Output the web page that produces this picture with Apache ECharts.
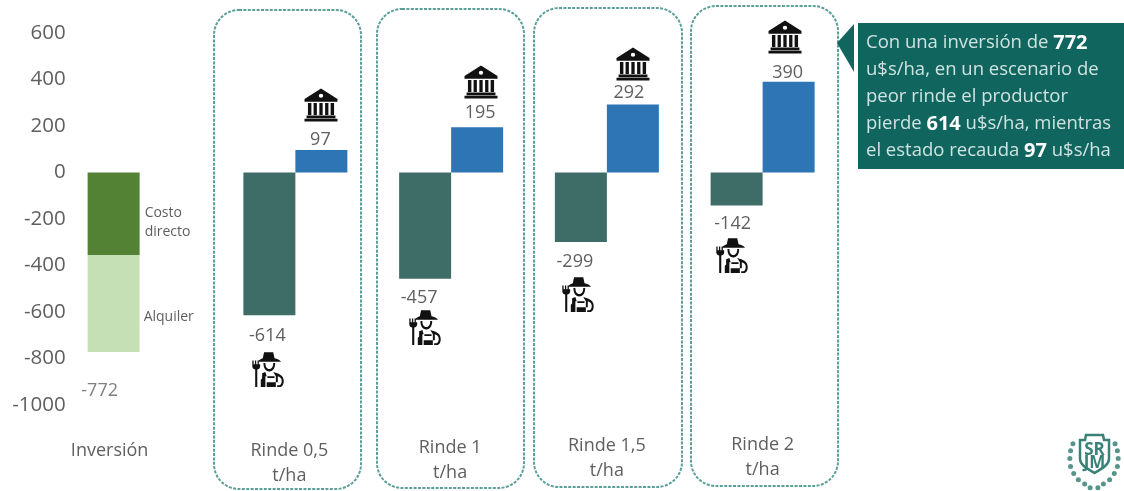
<!DOCTYPE html>
<html><head><meta charset="utf-8">
<style>html,body{margin:0;padding:0;background:#fff}#c{width:1124px;height:491px;filter:blur(0.45px)}</style>
<script src="https://cdn.jsdelivr.net/npm/echarts@6/dist/echarts.min.js"></script>
</head><body><div id="c"></div>
<script>
const categories = ['Inversión', 'Rinde 0,5', 'Rinde 1', 'Rinde 1,5', 'Rinde 2'];
const costoDirecto = [-355, null, null, null, null];
const alquiler = [-417, null, null, null, null];
const productor = [null, -614, -457, -299, -142];
const estado = [null, 97, 195, 292, 390];
const inversionTotal = [-772, null, null, null, null];
const yTicks = [-1000, 600, 200];

const FONT = '"Open Sans", sans-serif';
const GREY = '#5f5f5f';
const TEAL = '#5b9f98';
const LOGO = '#3a8278';
// label nudges (px) so that labels sit where the reference has them
const prodOffset = [null, [-2, 7], [-6, 5], [-6, 6], [-4, 4]];
const estOffset = [null, [-1, 2], [3, -2], [-4, 0], [-1, 3]];
// each category label sits at its own height and x in the reference
const labelDown = [6, 6, 3, 1, 0];
const labelLeft = [60, 12, 2, 0, 0];

echarts.graphic.registerShape('bankIcon', echarts.graphic.extendPath(
  'M12 0 L24 8 V10 H0 V8 Z M10.4 5.5 A1.6 1.6 0 1 0 13.6 5.5 A1.6 1.6 0 1 0 10.4 5.5 Z M2.5 11 H5 V20 H2.5 Z M6.6 11 H9 V20 H6.6 Z M10.8 11 H13.2 V20 H10.8 Z M15 11 H17.4 V20 H15 Z M19 11 H21.5 V20 H19 Z M1.5 20.5 H22.5 V22.5 H1.5 Z M0 23 H24 V25 H0 Z', {}));
echarts.graphic.registerShape('farmerIcon', echarts.graphic.extendPath(
  'M10 1 H17 L18 6 C20 6.5 22 7.5 23 9 H5 C6 7.5 8 6.5 9 6 Z ' +
  'M9.5 10 H11 C11 13 12 15 14 15 C16 15 17 13 17 10 H18.5 C18.5 14 17 17 14 17 C11 17 9.5 14 9.5 10 Z ' +
  'M1 8 H2 V11 H3 V8 H4 V11 H5 V8 H6 V11 H7 V8 V13 C7 14.5 5.6 15.5 4.8 15.5 V30 H3.2 V15.5 C2.4 15.5 1 14.5 1 13 Z ' +
  'M8.5 18.5 L11 17.5 L12 21 H11 V30 H7.5 V24 L8.5 23 Z ' +
  'M12.5 21 H18 V22.5 H12.5 Z M12 26 H19 V30 H12 Z ' +
  'M17 17.5 L20 18.5 C23 19.5 25 21.5 25 25 C25 28 24 30 22 30 H20 V28.5 H21.5 C22.7 28.5 23.5 27 23.5 25 C23.5 23 22.5 21.5 20.5 21 V26 H19 V21 Z', {}));
echarts.graphic.registerShape('shieldIcon', echarts.graphic.extendPath(
  'M0 5 L5 5 L6 0 H23 L24 5 L29 5 V24 C29 30 21 34 14.5 38 C8 34 0 30 0 24 Z', {}));

function panel(x, y, w, h) {
  return { type: 'rect', shape: { x, y, width: w, height: h, r: 25 }, silent: true,
    style: { fill: 'none', stroke: TEAL, lineWidth: 2, lineDash: [3, 1.4] } };
}
function bankAt(x, y) {
  return { type: 'bankIcon', silent: true, x: x - 16.5, y: y - 16.5, scaleX: 33 / 24, scaleY: 33 / 25, style: { fill: '#111' } };
}
function farmerAt(x, y) {
  return { type: 'farmerIcon', silent: true, x: x - 17, y: y - 18, scaleX: 34 / 26, scaleY: 36 / 30, style: { fill: '#111' } };
}
const wreath = [];
[[-27,-22],[-30,-14],[-31,-5],[-30,4],[-26,12],[-20,19],[-12,24],[-5,28],[27,-22],[30,-14],[31,-5],[30,4],[26,12],[20,19],[12,24],[5,28]].forEach(p => {
  wreath.push({ type: 'circle', silent: true, shape: { cx: 1094 + p[0] * 0.78, cy: 463 + p[1] * 0.88, r: 2.5 }, style: { fill: LOGO, opacity: 0.85 } });
});

const rich = {};
categories.forEach((c, i) => {
  const base = { fontFamily: FONT, fontSize: 18, color: GREY, padding: [0, labelLeft[i], 0, 0] };
  rich['b' + i] = Object.assign({ lineHeight: 25 + 2 * labelDown[i] }, base);
  rich['c' + i] = Object.assign({ lineHeight: 25 - 2 * labelDown[i] }, base);
});

const chart = echarts.init(document.getElementById('c'), null, { renderer: 'canvas' });
chart.setOption({
  animation: false,
  backgroundColor: '#fff',
  grid: { left: 61.75, right: 1124 - 840.5, top: 33, bottom: 491 - 405 },
  xAxis: {
    type: 'category', data: categories,
    axisLine: { show: false }, axisTick: { show: false }, splitLine: { show: false },
    axisLabel: {
      interval: 0, margin: 27,
      formatter: (v, i) => i === 0 ? '{b0|' + v + '}' : '{b' + i + '|' + v + '}\n{c' + i + '|t/ha}',
      rich
    }
  },
  yAxis: {
    type: 'value', min: yTicks[0], max: yTicks[1], interval: yTicks[2],
    axisLine: { show: false }, axisTick: { show: false }, splitLine: { show: false },
    axisLabel: { fontFamily: FONT, fontSize: 20.5, color: GREY, margin: -4, formatter: v => String(v) }
  },
  series: [
    { name: 'Costo directo', type: 'bar', stack: 'prod', barWidth: 52, barGap: 0, data: costoDirecto,
      itemStyle: { color: '#548235' },
      label: { show: true, position: 'right', distance: 5, offset: [0, 9], formatter: 'Costo\ndirecto', fontFamily: FONT, fontSize: 14, lineHeight: 19, color: GREY, align: 'left' } },
    { name: 'Alquiler', type: 'bar', stack: 'prod', barWidth: 52, data: alquiler,
      itemStyle: { color: '#C5E0B4' },
      label: { show: true, position: 'right', distance: 4, offset: [0, 14], fontFamily: FONT, fontSize: 14, color: GREY, formatter: 'Alquiler' } },
    { name: 'Productor', type: 'bar', stack: 'prod', barWidth: 52,
      data: productor.map((v, i) => v === null ? null : { value: v, label: { offset: prodOffset[i] } }),
      itemStyle: { color: '#3E6D68' },
      label: { show: true, position: 'bottom', distance: 5, fontFamily: FONT, fontSize: 18, color: GREY } },
    { name: 'Estado', type: 'bar', stack: 'est', barWidth: 52,
      data: estado.map((v, i) => v === null ? null : { value: v, label: { offset: estOffset[i] } }),
      itemStyle: { color: '#2E75B6' },
      label: { show: true, position: 'top', distance: 3, fontFamily: FONT, fontSize: 18, color: GREY } },
    { name: 'Inversión total', type: 'scatter', symbolSize: 1, itemStyle: { color: 'transparent' }, data: inversionTotal,
      label: { show: true, position: 'inside', offset: [-40, 39], fontFamily: FONT, fontSize: 18, color: GREY } }
  ],
  graphic: [
    panel(214, 10, 147, 479), panel(377, 9, 147, 479), panel(534, 8, 148, 479), panel(691, 6, 147, 480),
    bankAt(321, 105), bankAt(481, 82), bankAt(633, 64), bankAt(785, 37),
    farmerAt(268, 369), farmerAt(425, 327), farmerAt(578, 294), farmerAt(732, 255),
    { type: 'polygon', silent: true, shape: { points: [[837, 43], [854, 24], [854, 72]] }, style: { fill: '#11655F' } },
    { type: 'rect', silent: true, shape: { x: 858, y: 23, width: 266, height: 146 }, style: { fill: '#11655F' } },
    { type: 'text', silent: true, x: 866, y: 29.5, style: {
        text: 'Con una inversión de {b|772}\nu$s/ha, en un escenario de\npeor rinde el productor\npierde {b|614} u$s/ha, mientras\nel estado recauda {b|97} u$s/ha',
        fontFamily: FONT, fontSize: 18.5, lineHeight: 27, fill: '#cfe3e0',
        rich: { b: { fontFamily: FONT, fontSize: 20, fontWeight: 'bold', fill: '#ffffff', lineHeight: 27 } } } },
    ...wreath,
    { type: 'shieldIcon', silent: true, x: 1080, y: 435, style: { fill: '#fff', stroke: LOGO, lineWidth: 2.5 } },
    { type: 'text', silent: true, x: 1094.5, y: 442, style: { text: 'SR', fontFamily: FONT, fontSize: 17, fontWeight: 'bold', fill: LOGO, align: 'center' } },
    { type: 'text', silent: true, x: 1094.5, y: 455, style: { text: 'JM', fontFamily: FONT, fontSize: 17, fontWeight: 'bold', fill: LOGO, align: 'center' } }
  ]
});
</script></body></html>
